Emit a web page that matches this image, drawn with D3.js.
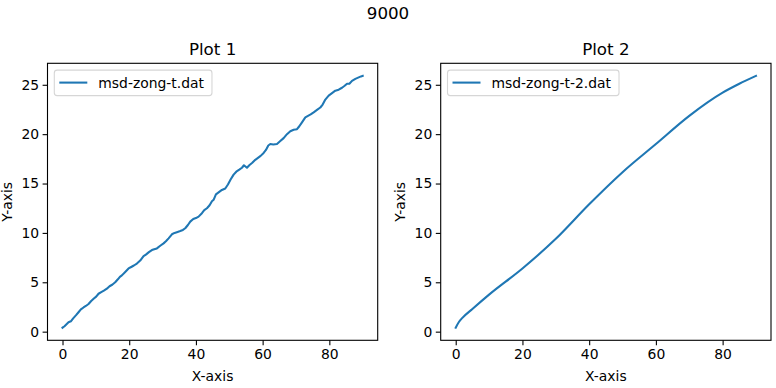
<!DOCTYPE html>
<html>
<head>
<meta charset="utf-8">
<script src="https://cdn.jsdelivr.net/npm/d3@7"></script>
<style>
  html, body { margin: 0; padding: 0; background: #fff; }
  svg { display: block; font-family: "DejaVu Sans", sans-serif; }
</style>
</head>
<body>
<svg id="chart" width="776" height="388"></svg>
<script>
// ---- data ----
const suptitle = "9000";
const titles = ["Plot 1", "Plot 2"];
const legendLabels = ["msd-zong-t.dat", "msd-zong-t-2.dat"];
const xTicks = [0, 20, 40, 60, 80];
const yTicks = [0, 5, 10, 15, 20, 25];

const x1 = [0,0.6,1.2,1.8,2.5,3.2,4.0,4.8,5.5,6.3,7.0,7.8,8.6,9.4,10.1,10.8,11.6,12.4,13.3,14.1,14.9,15.8,16.6,17.2,17.8,18.8,19.8,20.6,21.4,22.3,23.3,24.3,25.0,25.9,26.8,27.5,28.3,29.3,30.3,31.0,31.8,32.8,33.6,34.5,35.3,36.1,36.8,37.6,38.3,39.2,40.0,40.8,41.8,42.5,43.3,44.1,44.8,45.3,46.0,46.8,47.8,48.8,49.6,50.4,51.3,52.1,53.0,53.8,54.4,55.3,56.0,56.9,57.8,58.6,59.4,60.3,61.0,61.7,62.3,63.2,64.3,65.3,66.3,67.3,68.3,69.3,70.3,71.0,71.8,72.8,73.6,74.4,75.3,76.3,77.3,78.0,78.8,79.8,80.8,81.8,82.8,83.8,84.6,85.3,86.0,86.8,87.8,88.8,89.5,90];
const y1 = [0.40,0.55,0.75,0.95,1.05,1.35,1.65,1.97,2.25,2.45,2.60,2.80,3.10,3.35,3.55,3.84,4.00,4.15,4.35,4.60,4.75,5.00,5.30,5.55,5.70,6.05,6.40,6.55,6.70,6.90,7.20,7.65,7.80,8.05,8.26,8.35,8.43,8.70,8.94,9.15,9.45,9.86,10.00,10.10,10.19,10.30,10.47,10.80,11.14,11.40,11.50,11.65,12.00,12.30,12.50,12.80,13.20,13.35,13.90,14.10,14.35,14.50,14.90,15.40,15.90,16.20,16.40,16.60,16.85,16.60,16.85,17.10,17.40,17.60,17.80,18.10,18.40,18.85,19.00,18.95,19.00,19.30,19.60,20.00,20.30,20.45,20.50,20.80,21.20,21.70,21.85,22.00,22.20,22.45,22.70,23.00,23.50,23.90,24.15,24.40,24.50,24.70,24.90,25.10,25.10,25.40,25.60,25.75,25.85,25.90];

const x2 = [0,1,2,5,10,20,30,40,50,60,70,80,85,90];
const y2 = [0.40,1.00,1.40,2.30,3.75,6.40,9.40,12.90,16.15,19.00,21.85,24.20,25.10,25.90];

const series = [
  { xs: x1, ys: y1 },
  { xs: x2, ys: y2 }
];

// ---- layout ----
const svg = d3.select("#chart");
const color = "#1f77b4";
const panels = [
  { left: 47.5, right: 377.7, top: 63.3, bottom: 340.3 },
  { left: 440.7, right: 771, top: 63.3, bottom: 340.3 }
];

svg.append("text")
  .attr("x", 388).attr("y", 19)
  .attr("text-anchor", "middle")
  .attr("font-size", "16.7px")
  .text(suptitle);

series.forEach((s, i) => {
  const p = panels[i];
  const xMin = d3.min(s.xs), xMax = d3.max(s.xs);
  const yMin = d3.min(s.ys), yMax = d3.max(s.ys);
  const xm = (xMax - xMin) * 0.05, ym = (yMax - yMin) * 0.05;
  const x = d3.scaleLinear().domain([xMin - xm, xMax + xm]).range([p.left, p.right]);
  const y = d3.scaleLinear().domain([yMin - ym, yMax + ym]).range([p.bottom, p.top]);

  const g = svg.append("g");

  // line
  const pts = s.xs.map((v, k) => [v, s.ys[k]]);
  const line = d3.line().x(d => x(d[0])).y(d => y(d[1]));
  if (i === 1) line.curve(d3.curveMonotoneX);
  g.append("path")
    .datum(pts)
    .attr("fill", "none")
    .attr("stroke", color)
    .attr("stroke-width", 2.08)
    .attr("stroke-linejoin", "round")
    .attr("stroke-linecap", "square")
    .attr("d", line);

  // axes
  const xAxis = d3.axisBottom(x).tickValues(xTicks).tickSize(4.9).tickPadding(3.5).tickFormat(d3.format("d"));
  const yAxis = d3.axisLeft(y).tickValues(yTicks).tickSize(4.9).tickPadding(3.5).tickFormat(d3.format("d"));
  const gx = g.append("g").attr("transform", `translate(0,${p.bottom})`).call(xAxis);
  const gy = g.append("g").attr("transform", `translate(${p.left},0)`).call(yAxis);
  [gx, gy].forEach(a => {
    a.select(".domain").remove();
    a.selectAll(".tick line").attr("stroke", "#000").attr("stroke-width", 1.1);
    a.selectAll(".tick text").attr("font-size", "13.9px").attr("fill", "#000")
      .attr("font-family", "DejaVu Sans, sans-serif");
  });

  // frame
  g.append("rect")
    .attr("x", p.left).attr("y", p.top)
    .attr("width", p.right - p.left).attr("height", p.bottom - p.top)
    .attr("fill", "none").attr("stroke", "#000").attr("stroke-width", 1.1);

  // titles
  g.append("text")
    .attr("x", (p.left + p.right) / 2).attr("y", p.top - 8)
    .attr("text-anchor", "middle").attr("font-size", "16.7px")
    .text(titles[i]);
  g.append("text")
    .attr("x", (p.left + p.right) / 2).attr("y", 381)
    .attr("text-anchor", "middle").attr("font-size", "13.9px")
    .text("X-axis");
  g.append("text")
    .attr("transform", `translate(${p.left - 36},${(p.top + p.bottom) / 2}) rotate(-90)`)
    .attr("text-anchor", "middle").attr("font-size", "13.9px")
    .text("Y-axis");

  // legend
  const lx = p.left + 6.8, ly = p.top + 6.8;
  const lg = g.append("g");
  const txt = lg.append("text")
    .attr("x", lx + 44).attr("y", ly + 12.5 + 5)
    .attr("font-size", "13.9px")
    .text(legendLabels[i]);
  const tw = txt.node().getComputedTextLength();
  lg.insert("rect", "text")
    .attr("x", lx).attr("y", ly)
    .attr("width", 44 + tw + 8).attr("height", 25.5)
    .attr("rx", 2.8)
    .attr("fill", "#fff").attr("fill-opacity", 0.8)
    .attr("stroke", "#d6d6d6").attr("stroke-width", 1.1);
  lg.append("line")
    .attr("x1", lx + 5).attr("x2", lx + 33)
    .attr("y1", ly + 12.5).attr("y2", ly + 12.5)
    .attr("stroke", color).attr("stroke-width", 2.08);
});
</script>
</body>
</html>
